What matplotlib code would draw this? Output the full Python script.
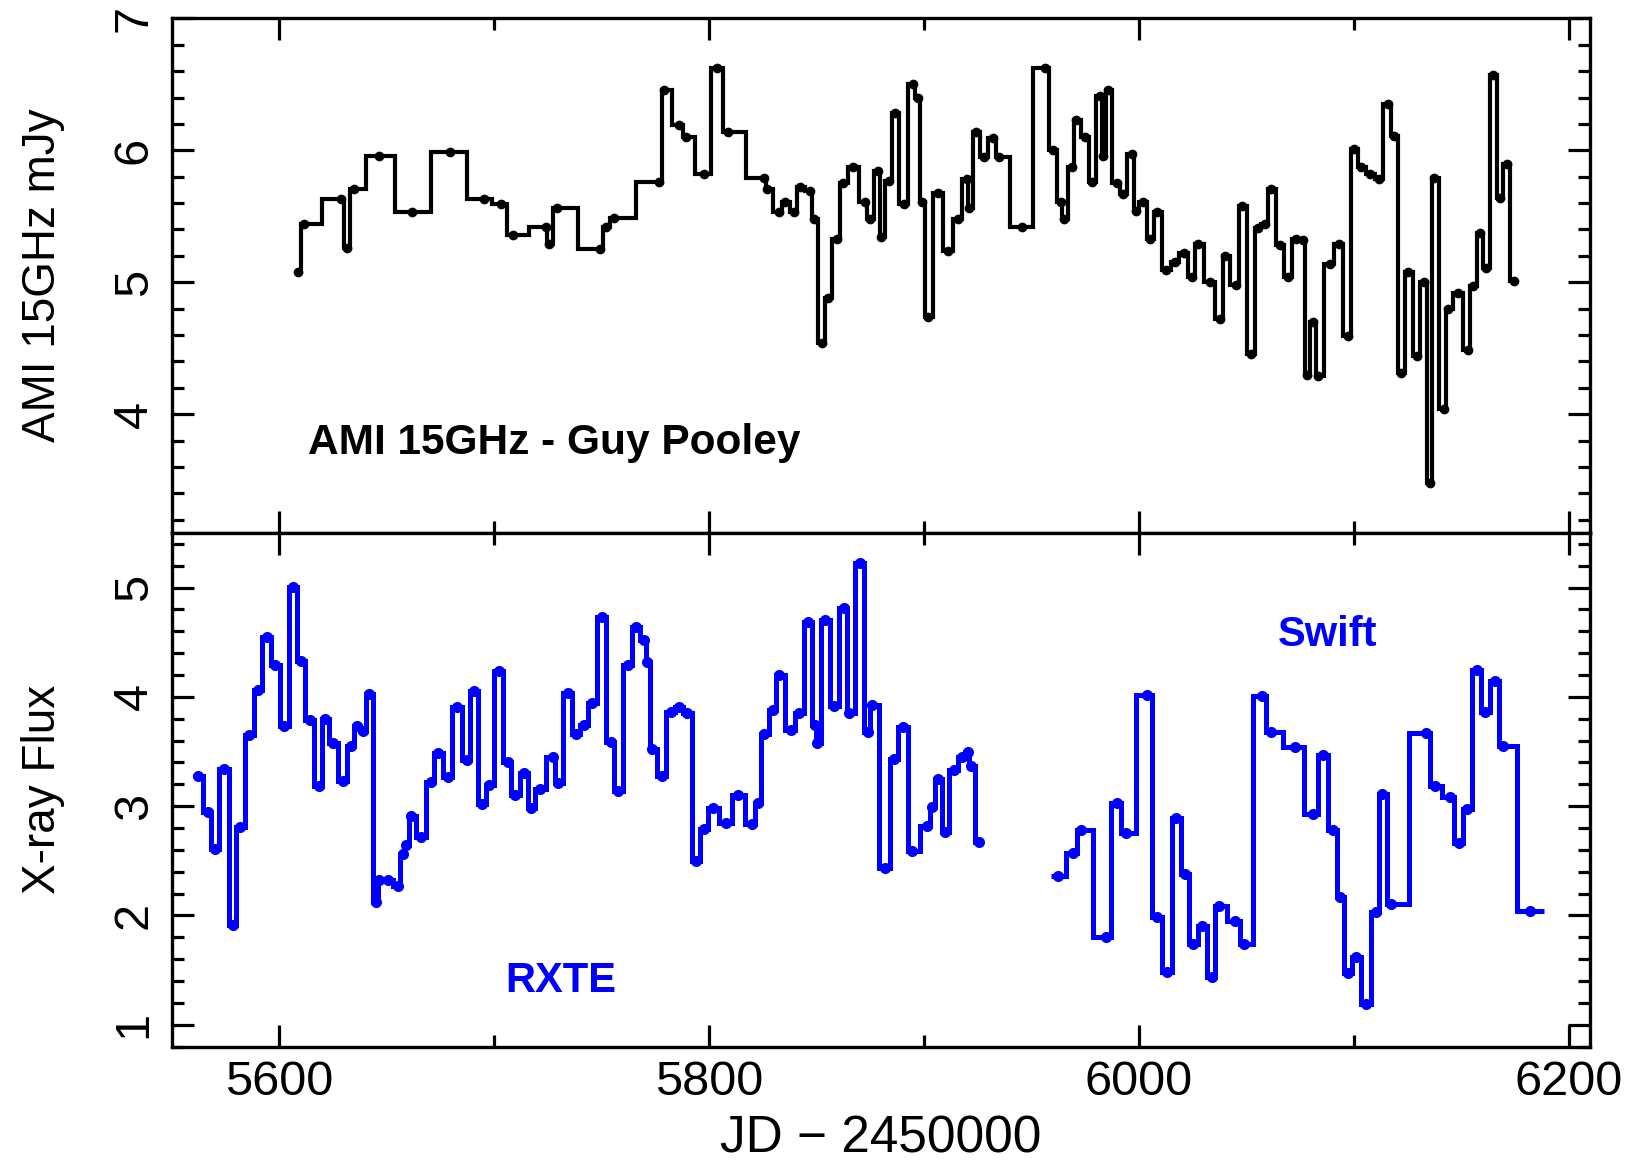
import numpy as np
import matplotlib
matplotlib.use('Agg')
import matplotlib.pyplot as plt
from matplotlib.ticker import MultipleLocator

plt.rcParams['font.family'] = ['Liberation Sans', 'DejaVu Sans']

# AMI 15GHz radio light curve (JD - 2450000, mJy)
ami_jd = [5608.5, 5611.4, 5628.5, 5631.3, 5634.8, 5646.2, 5661.7, 5679.2, 5695.0, 5703.1,
          5708.6, 5724.0, 5725.3, 5729.2, 5749.1, 5752.0, 5755.7, 5776.6, 5779.1, 5786.1,
          5789.4, 5797.5, 5803.8, 5808.9, 5825.6, 5827.0, 5832.3, 5835.5, 5839.3, 5842.2,
          5846.9, 5848.8, 5852.6, 5855.5, 5859.3, 5862.1, 5866.9, 5872.6, 5874.8, 5878.6,
          5880.1, 5883.5, 5886.5, 5890.6, 5894.8, 5897.2, 5899.0, 5901.7, 5906.3, 5911.1,
          5915.6, 5919.8, 5920.9, 5924.4, 5927.7, 5932.3, 5935.0, 5945.5, 5956.3, 5960.1,
          5963.6, 5965.1, 5968.9, 5970.9, 5975.1, 5978.2, 5981.8, 5983.5, 5985.5, 5989.7,
          5992.8, 5996.6, 5998.5, 6001.8, 6005.4, 6008.5, 6012.7, 6016.8, 6021.0, 6024.8,
          6027.3, 6033.0, 6037.7, 6040.2, 6045.0, 6048.1, 6052.3, 6055.4, 6058.6, 6061.3,
          6065.9, 6069.6, 6073.2, 6076.3, 6078.4, 6081.0, 6083.6, 6088.8, 6093.0, 6097.2,
          6100.3, 6103.4, 6107.6, 6111.8, 6115.9, 6118.6, 6122.2, 6125.3, 6129.5, 6132.6,
          6135.3, 6137.4, 6142.0, 6144.1, 6148.7, 6153.1, 6155.6, 6158.7, 6161.8, 6164.9,
          6168.1, 6171.2, 6174.4]
ami_flux = [5.08, 5.44, 5.63, 5.26, 5.71, 5.96, 5.53, 5.99, 5.63, 5.59,
            5.36, 5.42, 5.29, 5.56, 5.25, 5.42, 5.49, 5.76, 6.46, 6.19,
            6.10, 5.82, 6.62, 6.14, 5.79, 5.71, 5.53, 5.61, 5.53, 5.72,
            5.69, 5.48, 4.54, 4.88, 5.33, 5.75, 5.87, 5.61, 5.48, 5.84,
            5.34, 5.77, 6.28, 5.59, 6.50, 6.40, 5.61, 4.74, 5.68, 5.24,
            5.48, 5.78, 5.56, 6.14, 5.95, 6.09, 5.95, 5.42, 6.62, 6.00,
            5.61, 5.48, 5.87, 6.23, 6.10, 5.76, 6.41, 5.96, 6.46, 5.75,
            5.67, 5.97, 5.54, 5.61, 5.33, 5.53, 5.09, 5.15, 5.22, 5.04,
            5.29, 5.00, 4.72, 5.20, 4.98, 5.58, 4.46, 5.41, 5.44, 5.71,
            5.28, 5.04, 5.33, 5.32, 4.30, 4.70, 4.29, 5.14, 5.29, 4.59,
            6.01, 5.87, 5.82, 5.78, 6.35, 6.11, 4.31, 5.08, 4.44, 5.00,
            3.48, 5.79, 4.04, 4.80, 4.92, 4.49, 4.97, 5.37, 5.11, 6.57,
            5.64, 5.90, 5.01]

# RXTE X-ray flux
rxte_jd = [5562.0, 5566.7, 5569.8, 5574.4, 5578.3, 5581.7, 5586.0, 5589.9, 5594.3, 5598.1,
           5602.3, 5606.2, 5610.1, 5614.0, 5618.6, 5621.4, 5624.8, 5629.5, 5633.3, 5636.0,
           5638.8, 5641.9, 5645.0, 5646.5, 5650.4, 5655.0, 5657.4, 5659.0, 5661.2, 5665.9,
           5670.5, 5673.6, 5678.3, 5682.5, 5687.1, 5690.7, 5694.3, 5697.7, 5702.0, 5706.2,
           5709.8, 5714.0, 5717.1, 5721.2, 5727.1, 5729.5, 5734.1, 5738.0, 5741.9, 5745.7,
           5750.1, 5754.3, 5757.4, 5762.0, 5765.9, 5769.8, 5771.0, 5773.6, 5778.0, 5782.2,
           5786.0, 5789.9, 5793.8, 5797.7, 5801.6, 5807.8, 5813.6, 5820.0, 5822.8, 5825.6,
           5829.9, 5832.5, 5838.0, 5841.9, 5846.2, 5849.3, 5850.4, 5854.0, 5858.1, 5862.8,
           5865.1, 5870.2, 5874.1, 5876.0, 5881.9, 5886.0, 5890.2, 5894.6, 5901.6, 5903.9,
           5906.7, 5909.8, 5913.9, 5917.8, 5920.5, 5921.8, 5925.6]
rxte_flux = [3.28, 2.95, 2.61, 3.34, 1.91, 2.81, 3.65, 4.06, 4.55, 4.29,
             3.73, 5.01, 4.33, 3.79, 3.18, 3.80, 3.58, 3.23, 3.55, 3.73,
             3.69, 4.03, 2.12, 2.32, 2.32, 2.27, 2.56, 2.64, 2.91, 2.72,
             3.22, 3.49, 3.27, 3.91, 3.42, 4.05, 3.02, 3.19, 4.24, 3.40,
             3.10, 3.30, 2.98, 3.16, 3.45, 3.21, 4.04, 3.66, 3.74, 3.94,
             4.73, 3.59, 3.14, 4.29, 4.64, 4.52, 4.32, 3.52, 3.28, 3.86,
             3.91, 3.85, 2.50, 2.79, 2.98, 2.85, 3.10, 2.84, 3.03, 3.66,
             3.88, 4.20, 3.70, 3.85, 4.69, 3.74, 3.58, 4.70, 3.92, 4.81,
             3.85, 5.23, 3.68, 3.93, 2.43, 3.43, 3.72, 2.59, 2.82, 2.99,
             3.25, 2.76, 3.33, 3.45, 3.50, 3.37, 2.67]

# Swift X-ray flux
swift_jd = [5962.5, 5969.5, 5972.9, 5984.5, 5989.9, 5993.8, 6004.0, 6008.6, 6013.2, 6017.4,
            6021.5, 6025.2, 6029.6, 6033.9, 6037.4, 6044.8, 6049.0, 6057.3, 6061.5, 6072.8,
            6080.9, 6085.6, 6090.3, 6093.7, 6097.3, 6101.2, 6105.8, 6110.2, 6113.3, 6117.5,
            6133.5, 6137.7, 6144.7, 6149.1, 6152.5, 6157.2, 6161.1, 6165.8, 6169.6, 6182.1]
swift_flux = [2.36, 2.57, 2.78, 1.80, 3.03, 2.75, 4.02, 1.99, 1.48, 2.89,
              2.38, 1.74, 1.90, 1.44, 2.09, 1.95, 1.74, 4.01, 3.68, 3.54,
              2.93, 3.47, 2.78, 2.17, 1.47, 1.62, 1.19, 2.03, 3.11, 2.10,
              3.67, 3.18, 3.08, 2.66, 2.97, 4.25, 3.86, 4.15, 3.55, 2.04]


def bin_edges(x):
    x = np.asarray(x, float)
    mid = (x[1:] + x[:-1]) / 2
    return np.concatenate([[x[0] - (x[1] - x[0]) / 2], mid, [x[-1] + (x[-1] - x[-2]) / 2]])


def binplot(ax, x, y, color, lw, ms):
    # histogram-style line centred on each point, like pgbin
    ax.stairs(y, bin_edges(x), baseline=None, color=color, lw=lw)
    ax.plot(x, y, 'o', color=color, ms=ms, mew=0)


def style_axis(ax):
    for sp in ax.spines.values():
        sp.set_linewidth(2.4)
    ax.tick_params(which='both', direction='in', top=True, right=True, width=2.3)
    ax.tick_params(which='major', length=16)
    ax.tick_params(which='minor', length=8.5)
    ax.tick_params(axis='x', labelsize=35, pad=10)
    ax.tick_params(axis='y', labelsize=35, pad=11, labelrotation=90)
    ax.xaxis.set_major_locator(MultipleLocator(200))
    ax.xaxis.set_minor_locator(MultipleLocator(100))
    ax.yaxis.set_major_locator(MultipleLocator(1))
    ax.yaxis.set_minor_locator(MultipleLocator(0.2))
    for lab in ax.get_yticklabels():
        lab.set_verticalalignment('center')


fig = plt.figure(figsize=(16.32, 11.61), dpi=100)
ax1 = fig.add_axes([0.1054, 0.5409, 0.8689, 0.4433])
ax2 = fig.add_axes([0.1054, 0.0986, 0.8689, 0.4423])

binplot(ax1, ami_jd, ami_flux, 'black', 3.0, 7)
binplot(ax2, rxte_jd, rxte_flux, '#0000ff', 3.6, 8)
binplot(ax2, swift_jd, swift_flux, '#0000ff', 3.6, 8)

for ax in (ax1, ax2):
    ax.set_xlim(5550, 6210)
    style_axis(ax)

ax1.set_ylim(3.1, 7.0)
ax2.set_ylim(0.8, 5.5)
ax1.tick_params(labelbottom=False)

ax1.set_ylabel('AMI 15GHz mJy', fontsize=33)
ax2.set_ylabel('X-ray Flux', fontsize=33)
ax1.yaxis.set_label_coords(-0.0755, 0.5)
ax2.yaxis.set_label_coords(-0.0755, 0.5)
ax2.set_xlabel('JD \u2212 2450000', fontsize=37)
ax2.xaxis.set_label_coords(0.5, -0.132)

ax1.text(5613.5, 3.70, 'AMI 15GHz - Guy Pooley', fontsize=30.5, fontweight='bold',
         ha='left', va='baseline', color='black')
ax2.text(5731, 1.30, 'RXTE', fontsize=30, fontweight='bold', ha='center',
         va='baseline', color='#0000ff')
ax2.text(6088, 4.47, 'Swift', fontsize=30, fontweight='bold', ha='center',
         va='baseline', color='#0000ff')

fig.savefig('out.png', dpi=100)
